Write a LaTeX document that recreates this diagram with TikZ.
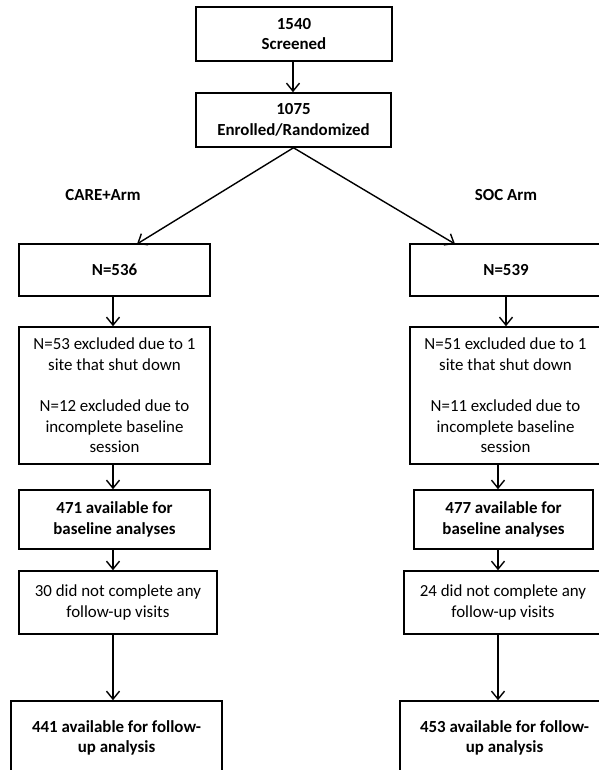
\documentclass[tikz,border=0pt]{standalone}
\usepackage{fontspec}
\setmainfont{Carlito}
\usetikzlibrary{arrows.meta}
\begin{document}
\begin{tikzpicture}[x=1pt,y=-1pt,
  box/.style={draw=black,line width=1.5pt,inner sep=0pt,align=center,
    font=\fontsize{16.9}{20.6}\selectfont},
  bbox/.style={box,font=\fontsize{16.9}{20.6}\selectfont\bfseries},
  arr/.style={line width=1.4pt,-{Straight Barb[length=8pt,width=13pt,line width=1.4pt]}},
  lbl/.style={font=\fontsize{16.9}{20}\selectfont\bfseries,inner sep=0pt}]
\useasboundingbox (0,0) rectangle (598,770);
\fill[white] (0,0) rectangle (598,770);
% top
\node[bbox,minimum width=196pt,minimum height=54pt] (b1) at (294,34) {1540\\Screened};
\node[bbox,minimum width=195pt,minimum height=54pt] (b2) at (293.5,120) {1075\\Enrolled/Randomized};
% labels
\node[lbl] (la) at (103,195) {CARE+Arm};
\node[lbl] (lb) at (506,195) {SOC Arm};
% left column
\node[bbox,minimum width=191pt,minimum height=52pt] (L1) at (114.5,270) {N=536};
\node[box,minimum width=191pt,minimum height=137pt] (L2) at (114.5,395.5) {N=53 excluded due to 1\\site that shut down\\~\\N=12 excluded due to\\incomplete baseline\\session};
\node[bbox,minimum width=191pt,minimum height=59pt] (L3) at (114.5,519.5) {471 available for\\baseline analyses};
\node[box,minimum width=198pt,minimum height=63pt] (L4) at (118,602.5) {30 did not complete any\\follow-up visits};
\node[bbox,minimum width=211pt,minimum height=74pt] (L5) at (116.5,738) {441 available for follow-\\up analysis};
% right column
\node[bbox,minimum width=192pt,minimum height=52pt] (R1) at (506,270) {N=539};
\node[box,minimum width=191pt,minimum height=137pt] (R2) at (505.5,395.5) {N=51 excluded due to 1\\site that shut down\\~\\N=11 excluded due to\\incomplete baseline\\session};
\node[bbox,minimum width=179pt,minimum height=59pt] (R3) at (503.5,519.5) {477 available for\\baseline analyses};
\node[box,minimum width=198pt,minimum height=63pt] (R4) at (503,602.5) {24 did not complete any\\follow-up visits};
\node[bbox,minimum width=209pt,minimum height=74pt] (R5) at (504.5,738) {453 available for follow-\\up analysis};
% x positions of vertical connectors
\coordinate (xL) at (113,0);
\coordinate (xR) at (498,0);
\coordinate (tL) at (137,244);
\coordinate (tR) at (455,244);
% connectors
\draw[arr] (b1.south -| 293,0) -- (b2.north -| 293,0);
\draw[arr] (b2.south) -- (tL);
\draw[arr] (b2.south) -- (tR);
\draw[arr] (L1.south -| xL) -- (L2.north -| xL);
\draw[arr] (L2.south -| xL) -- (L3.north -| xL);
\draw[arr] (L3.south -| xL) -- (L4.north -| xL);
\draw[arr] (L4.south -| xL) -- (L5.north -| xL);
\draw[arr] (R1.south) -- (R2.north -| R1.south);
\draw[arr] (R2.south -| xR) -- (R3.north -| xR);
\draw[arr] (R3.south -| xR) -- (R4.north -| xR);
\draw[arr] (R4.south -| xR) -- (R5.north -| xR);
\end{tikzpicture}
\end{document}
